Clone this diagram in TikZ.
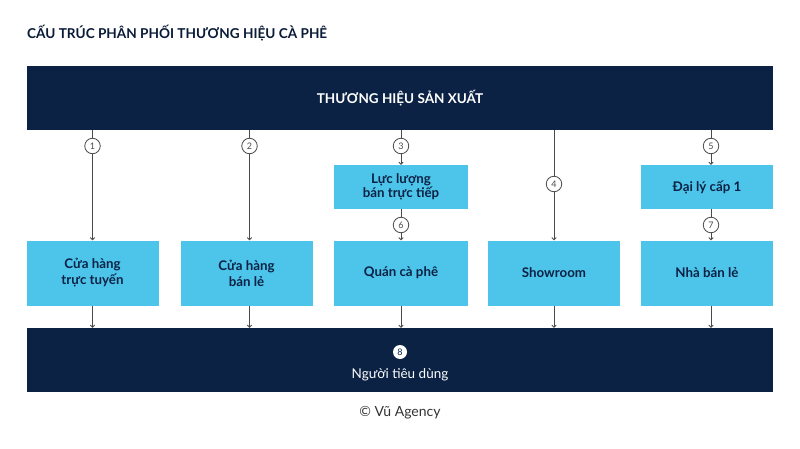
\documentclass[tikz,border=0pt]{standalone}
\usepackage{fontspec}
\setmainfont{Lato}
\usetikzlibrary{arrows.meta}
\definecolor{navy}{HTML}{0B2245}
\definecolor{cyanbox}{HTML}{4DC4EA}
\definecolor{linegray}{HTML}{4A4A4A}
\tikzset{
  bar/.style={fill=navy, draw=none, text=white, font=\fontsize{13.5}{15}\selectfont\bfseries},
  chbox/.style={fill=cyanbox, draw=none, minimum width=132pt, minimum height=65pt, align=center, text=navy, font=\fontsize{13.3}{16}\selectfont\bfseries, inner sep=0pt},
  smbox/.style={fill=cyanbox, draw=none, minimum width=134pt, minimum height=44pt, align=center, text=navy, font=\fontsize{13.3}{14.5}\selectfont\bfseries, inner sep=0pt},
  num/.style={circle, draw=linegray, line width=0.8pt, fill=white, minimum size=15.5pt, inner sep=0pt, text=linegray, font=\fontsize{9}{9}\selectfont},
  conn/.style={draw=linegray, line width=0.9pt},
  arr/.style={conn, -{To[length=3pt,width=5pt]}},
}
\begin{document}
\begin{tikzpicture}[x=1pt,y=-1pt]
\useasboundingbox[fill=white] (0,0) rectangle (800,449);
% title
\node[anchor=west, inner sep=0pt, text=navy!80!black, font=\fontsize{13.6}{15}\selectfont\bfseries] (title) at (27,33) {CẤU TRÚC PHÂN PHỐI THƯƠNG HIỆU CÀ PHÊ};
% bars
\node[bar, minimum width=746pt, minimum height=64pt, inner sep=0pt] (top) at (400,98) {THƯƠNG HIỆU SẢN XUẤT};
\node[bar, minimum width=746pt, minimum height=64pt, inner sep=0pt] (bot) at (400,360) {};
\node[font=\fontsize{13.5}{15}\selectfont, text=white] (botlbl) at (400,375) {Người tiêu dùng};
% boxes
\node[chbox] (b1) at (92.5,273) {Cửa hàng\\trực tuyến};
\node[chbox] (b2) at (246.5,273) {Cửa hàng\\bán lẻ};
\node[chbox, minimum width=134pt] (b3) at (401,273) {Quán cà phê};
\node[chbox] (b4) at (554,273) {Showroom};
\node[chbox] (b5) at (707,273) {Nhà bán lẻ};
\node[smbox] (s3) at (401,187) {Lực lượng\\bán trực tiếp};
\node[smbox, minimum width=132pt] (s5) at (707,187) {Đại lý cấp 1};
% connectors top -> boxes
\draw[arr] (top.south -| b1.north) -- (b1.north);
\draw[arr] ([xshift=3pt]top.south -| b2.north) -- ([xshift=3pt]b2.north);
\draw[arr] (top.south -| s3.north) -- (s3.north);
\draw[arr] (s3.south) -- (b3.north);
\draw[arr] (top.south -| b4.north) -- (b4.north);
\draw[arr] ([xshift=4pt]top.south -| s5.north) -- ([xshift=4pt]s5.north);
\draw[arr] ([xshift=4pt]s5.south) -- ([xshift=4pt]b5.north);
% connectors boxes -> bottom
\draw[arr] (b1.south) -- (bot.north -| b1.south);
\draw[arr] ([xshift=3pt]b2.south) -- ([xshift=3pt]bot.north -| b2.south);
\draw[arr] (b3.south) -- (bot.north -| b3.south);
\draw[arr] (b4.south) -- (bot.north -| b4.south);
\draw[arr] ([xshift=4pt]b5.south) -- ([xshift=4pt]bot.north -| b5.south);
% numbered circles
\node[num] (n1) at (92.5,146) {1};
\node[num] (n2) at (249.5,146) {2};
\node[num] (n3) at (401,146) {3};
\node[num] (n4) at (554,184) {4};
\node[num] (n5) at (711,146) {5};
\node[num] (n6) at (401,225) {6};
\node[num] (n7) at (711,225) {7};
\node[circle, fill=white, minimum size=14pt, inner sep=0pt, text=navy, font=\fontsize{9}{9}\selectfont] (n8) at (400,352) {8};
% footer
\node[text=black!80, font=\fontsize{14}{16}\selectfont] (copy) at (400,413) {© Vũ Agency};
\end{tikzpicture}
\end{document}
